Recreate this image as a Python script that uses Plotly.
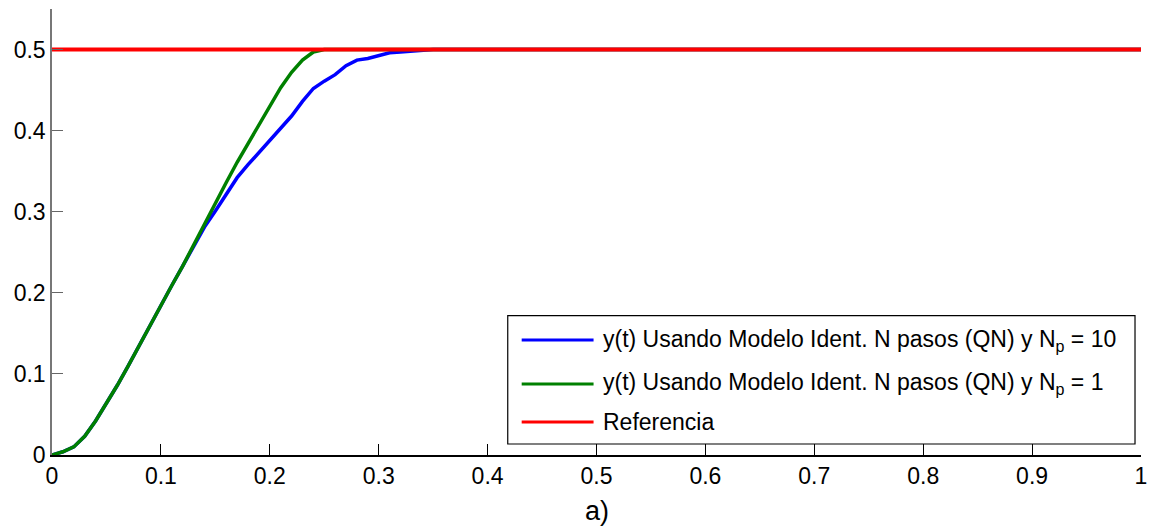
import plotly.graph_objects as go

# Simulation time (s)
t = [0.00, 0.01, 0.02, 0.03, 0.04, 0.05, 0.06, 0.07, 0.08, 0.09,
     0.10, 0.11, 0.12, 0.13, 0.14, 0.15, 0.16, 0.17, 0.18, 0.19,
     0.20, 0.21, 0.22, 0.23, 0.24, 0.25, 0.26, 0.27, 0.28, 0.29,
     0.30, 0.31, 0.32, 0.33, 0.34, 0.35, 1.00]

# Plant output using the N-step identified model, Np = 10
y_np10 = [0.000, 0.004, 0.010, 0.023, 0.042, 0.063, 0.086, 0.110, 0.135, 0.161,
          0.185, 0.209, 0.233, 0.258, 0.281, 0.301, 0.321, 0.342, 0.358, 0.373,
          0.388, 0.403, 0.418, 0.436, 0.452, 0.461, 0.469, 0.480, 0.487, 0.489,
          0.493, 0.496, 0.497, 0.498, 0.500, 0.500, 0.500]

# Plant output using the N-step identified model, Np = 1
y_np1 = [0.000, 0.004, 0.010, 0.023, 0.042, 0.063, 0.086, 0.110, 0.135, 0.161,
         0.185, 0.209, 0.233, 0.259, 0.286, 0.311, 0.336, 0.361, 0.384, 0.406,
         0.429, 0.453, 0.472, 0.487, 0.497, 0.500, 0.500, 0.500, 0.500, 0.500,
         0.500, 0.500, 0.500, 0.500, 0.500, 0.500, 0.500]

# Set-point
t_ref = [0.0, 1.0]
y_ref = [0.5, 0.5]

names = [
    "y(t) Usando Modelo Ident. N pasos (QN) y N<sub>p</sub> = 10",
    "y(t) Usando Modelo Ident. N pasos (QN) y N<sub>p</sub> = 1",
    "Referencia",
]
colors = ["#0000FF", "#008000", "#FF0000"]

x_ticks = [0, 0.1, 0.2, 0.3, 0.4, 0.5, 0.6, 0.7, 0.8, 0.9, 1]
x_ticklabels = ["0", "0.1", "0.2", "0.3", "0.4", "0.5", "0.6", "0.7", "0.8", "0.9", "1"]
y_ticks = [0, 0.1, 0.2, 0.3, 0.4, 0.5]
y_ticklabels = ["0", "0.1", "0.2", "0.3", "0.4", "0.5"]

FONT = "Liberation Sans, Arial, sans-serif"

fig = go.Figure()
fig.add_trace(go.Scatter(x=t, y=y_np10, mode="lines",
                         line=dict(color=colors[0], width=3.5), showlegend=False))
fig.add_trace(go.Scatter(x=t, y=y_np1, mode="lines",
                         line=dict(color=colors[1], width=3.5), showlegend=False))
fig.add_trace(go.Scatter(x=t_ref, y=y_ref, mode="lines",
                         line=dict(color=colors[2], width=4), showlegend=False))

# Framed legend box (paper coordinates)
bx0, bx1, by0, by1 = 0.4185, 0.9945, 0.0247, 0.3123
shapes = [dict(type="rect", xref="paper", yref="paper", x0=bx0, x1=bx1, y0=by0, y1=by1,
               line=dict(color="black", width=1.2), fillcolor="white", layer="above")]
annotations = []
row_y = [0.2578, 0.1592, 0.0740]
for name, col, ry in zip(names, colors, row_y):
    shapes.append(dict(type="line", xref="paper", yref="paper", x0=0.4313, x1=0.4973,
                       y0=ry, y1=ry, line=dict(color=col, width=3), layer="above"))
    annotations.append(dict(text=name, xref="paper", yref="paper", x=0.5037, y=ry,
                            xanchor="left", yanchor="middle", showarrow=False,
                            font=dict(family=FONT, size=23, color="black")))

annotations.append(dict(text="a)", xref="paper", yref="paper", x=0.5, y=0,
                        xanchor="center", yanchor="top", yshift=-39, showarrow=False,
                        font=dict(family=FONT, size=27, color="black")))

fig.update_layout(
    width=1156, height=531,
    margin=dict(l=52, r=12, t=9, b=76),
    paper_bgcolor="white", plot_bgcolor="white",
    font=dict(family=FONT, size=23, color="black"),
    shapes=shapes, annotations=annotations,
    xaxis=dict(range=[0, 1], tickvals=x_ticks, ticktext=x_ticklabels,
               showgrid=False, zeroline=False, showline=True, linecolor="black",
               linewidth=1.5, ticks="inside", ticklen=11, tickcolor="black",
               tickfont=dict(family=FONT, size=23)),
    yaxis=dict(range=[0, 0.55], tickvals=y_ticks, ticktext=y_ticklabels,
               showgrid=False, zeroline=False, showline=True, linecolor="#777777",
               linewidth=1.5, ticks="inside", ticklen=11, tickcolor="#666666",
               tickfont=dict(family=FONT, size=23)),
)

fig.write_html("out.html")
